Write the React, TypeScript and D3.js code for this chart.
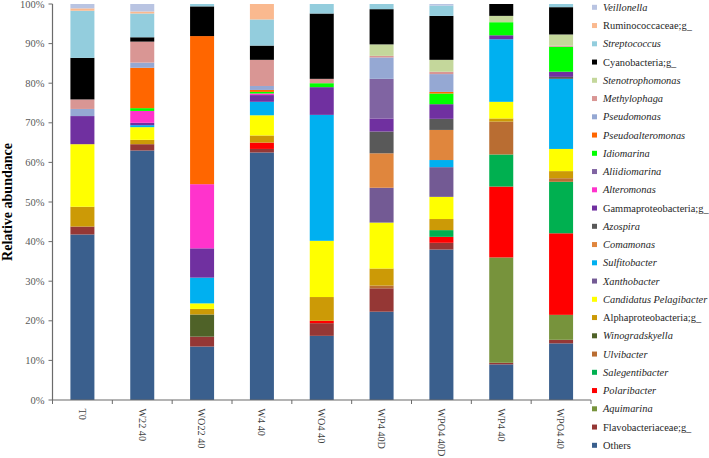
import React from "react";
import * as d3 from "d3";

const samples = ["T0", "W22 40", "WO22 40", "W4 40", "WO4 40", "WP4 40D", "WPO4 40D", "WP4 40", "WPO4 40"];

// values (%) per taxon, in sample order
const others = [41.8, 63.0, 13.5, 62.5, 16.2, 22.3, 38.0, 9.0, 14.3];
const flavobacteriaceae = [2.0, 1.6, 2.5, 0.9, 3.2, 5.9, 1.7, 0.4, 0.9];
const aquimarina = [0, 0, 0, 0, 0, 0, 0, 26.6, 6.3];
const polaribacter = [0, 0, 0, 1.6, 0.6, 0, 1.5, 17.9, 20.6];
const salegentibacter = [0, 0, 0, 0, 0, 0, 1.7, 8.1, 13.0];
const ulvibacter = [0, 0, 0, 0, 0, 0.7, 0, 8.3, 0.9];
const winogradskyella = [0, 0, 5.6, 0, 0, 0, 0, 0, 0];
const alphaproteobacteria = [5.0, 1.1, 1.4, 1.8, 6.0, 4.3, 2.8, 0.8, 1.8];
const candidatus = [15.8, 3.2, 1.4, 5.1, 14.2, 11.6, 5.6, 4.2, 5.6];
const xanthobacter = [0, 0, 0, 0, 0, 8.8, 7.5, 0, 0];
const sulfitobacter = [0, 0.5, 6.5, 3.4, 31.8, 0, 1.8, 15.8, 17.7];
const comamonas = [0, 0, 0, 0, 0, 8.7, 7.6, 0, 0];
const azospira = [0, 0, 0, 0, 0, 5.5, 2.8, 0, 0.5];
const gammaproteobacteria = [7.1, 0.6, 7.4, 1.7, 7.0, 3.3, 3.7, 1.0, 1.3];
const alteromonas = [0, 3.0, 16.2, 0.4, 0, 0, 0, 0, 0];
const aliidiomarina = [0, 0, 0, 0, 0, 10.0, 0, 0, 0];
const idiomarina = [0, 0.7, 0, 0.4, 1.0, 0, 2.7, 3.3, 6.3];
const pseudoalteromonas = [0, 10.2, 37.4, 0.5, 0, 0, 0.4, 0, 0];
const pseudomonas = [1.8, 1.3, 0, 1.0, 0, 5.4, 4.5, 0, 0];
const methylophaga = [2.4, 5.3, 0, 6.6, 1.1, 0.4, 0.6, 0, 0.3];
const stenotrophomonas = [0, 0, 0, 0, 0, 2.9, 3.0, 1.6, 2.8];
const cyanobacteria = [10.5, 1.1, 7.5, 3.6, 16.5, 8.9, 11.1, 3.0, 6.9];
const streptococcus = [11.9, 6.0, 0.6, 6.6, 2.4, 1.3, 2.6, 0, 0.8];
const ruminococcaceae = [0.6, 0.5, 0, 3.9, 0, 0, 0, 0, 0];
const veillonella = [1.1, 1.9, 0, 0, 0, 0, 0.4, 0, 0];

const yTicks = [0, 10, 20, 30, 40, 50, 60, 70, 80, 90, 100];

// bottom -> top stacking order
const seriesList: { name: string; italic: boolean; color: string; values: number[] }[] = [
  { name: "Others", italic: false, color: "#3A5F8D", values: others },
  { name: "Flavobacteriaceae;g_", italic: false, color: "#953735", values: flavobacteriaceae },
  { name: "Aquimarina", italic: true, color: "#77933C", values: aquimarina },
  { name: "Polaribacter", italic: true, color: "#FF0000", values: polaribacter },
  { name: "Salegentibacter", italic: true, color: "#00B050", values: salegentibacter },
  { name: "Ulvibacter", italic: true, color: "#B96D32", values: ulvibacter },
  { name: "Winogradskyella", italic: true, color: "#4F6228", values: winogradskyella },
  { name: "Alphaproteobacteria;g_", italic: false, color: "#CC9A06", values: alphaproteobacteria },
  { name: "Candidatus Pelagibacter", italic: true, color: "#FFFF00", values: candidatus },
  { name: "Xanthobacter", italic: true, color: "#735A94", values: xanthobacter },
  { name: "Sulfitobacter", italic: true, color: "#00B0F0", values: sulfitobacter },
  { name: "Comamonas", italic: true, color: "#E0863D", values: comamonas },
  { name: "Azospira", italic: true, color: "#595959", values: azospira },
  { name: "Gammaproteobacteria;g_", italic: false, color: "#7030A0", values: gammaproteobacteria },
  { name: "Alteromonas", italic: true, color: "#FF33CC", values: alteromonas },
  { name: "Aliidiomarina", italic: true, color: "#8064A2", values: aliidiomarina },
  { name: "Idiomarina", italic: true, color: "#00FF00", values: idiomarina },
  { name: "Pseudoalteromonas", italic: true, color: "#FF6600", values: pseudoalteromonas },
  { name: "Pseudomonas", italic: true, color: "#95A8D3", values: pseudomonas },
  { name: "Methylophaga", italic: true, color: "#D99694", values: methylophaga },
  { name: "Stenotrophomonas", italic: true, color: "#C4D79B", values: stenotrophomonas },
  { name: "Cyanobacteria;g_", italic: false, color: "#000000", values: cyanobacteria },
  { name: "Streptococcus", italic: true, color: "#93CDDD", values: streptococcus },
  { name: "Ruminococcaceae;g_", italic: false, color: "#FAB98F", values: ruminococcaceae },
  { name: "Veillonella", italic: true, color: "#B9C4E2", values: veillonella },
];

const W = 709;
const H = 458;
const left = 52.5;
const right = 591;
const top = 4;
const bottom = 400;
const font = "'Liberation Serif', 'Times New Roman', serif";

export default function App() {
  const x = d3.scaleBand<string>().domain(samples).range([left, right]).paddingInner(0).paddingOuter(0);
  const y = d3.scaleLinear().domain([0, 100]).range([bottom, top]);
  const barW = 24;

  const table = samples.map((s, i) => {
    const row: Record<string, number | string> = { sample: s };
    seriesList.forEach((ser) => (row[ser.name] = ser.values[i]));
    return row;
  });
  const stack = d3.stack<Record<string, number | string>>().keys(seriesList.map((s) => s.name))
    .value((d, k) => d[k] as number);
  const layers = stack(table);

  const legendRows = [...seriesList].reverse();
  const legendY = d3.scalePoint<string>().domain(legendRows.map((s) => s.name)).range([7.3, 445.3]);

  const boundaries = samples.map((s) => x(s) as number).concat([right]);

  return (
    <svg width={W} height={H} style={{ position: "absolute", left: 0, top: 0, background: "#fff" }}
      fontFamily={font}>
      {layers.map((layer, li) => (
        <g key={layer.key} fill={seriesList[li].color}>
          {layer.map((d, i) => {
            const h = y(d[0]) - y(d[1]);
            if (h <= 0) return null;
            return (
              <rect key={i} x={(x(samples[i]) as number) + x.bandwidth() / 2 - barW / 2} y={y(d[1])}
                width={barW} height={h} />
            );
          })}
        </g>
      ))}
      {/* y axis */}
      <line x1={left} x2={left} y1={top} y2={bottom} stroke="#6b6b6b" strokeWidth={1.2} />
      {yTicks.map((t) => (
        <g key={t}>
          <line x1={left - 4} x2={left} y1={y(t)} y2={y(t)} stroke="#6b6b6b" strokeWidth={1} />
          <text x={left - 8} y={y(t)} dy="0.35em" textAnchor="end" fontSize={10.5} fill="#595959">
            {t}%
          </text>
        </g>
      ))}
      {/* x axis */}
      <line x1={left} x2={right} y1={bottom} y2={bottom} stroke="#6b6b6b" strokeWidth={1.2} />
      {boundaries.map((bx, i) => (
        <line key={i} x1={bx} x2={bx} y1={bottom} y2={bottom + 4} stroke="#6b6b6b" strokeWidth={1} />
      ))}
      {samples.map((s) => {
        const cx = (x(s) as number) + x.bandwidth() / 2;
        return (
          <text key={s} transform={`translate(${cx - 3.6},${408.5}) rotate(90)`} fontSize={10.2} fill="#404040">
            {s}
          </text>
        );
      })}
      <text transform={`translate(12,${(top + bottom) / 2}) rotate(-90)`} textAnchor="middle" fontSize={14}
        fontWeight="bold" fill="#000">
        Relative abundance
      </text>
      {/* legend */}
      {legendRows.map((s) => {
        const ly = legendY(s.name) as number;
        return (
          <g key={s.name}>
            <rect x={592} y={ly - 2.5} width={5} height={5} fill={s.color} />
            <text x={603} y={ly} dy="0.35em" fontSize={10.4} fill="#262626" fontStyle={s.italic ? "italic" : "normal"}>
              {s.name}
            </text>
          </g>
        );
      })}
    </svg>
  );
}
